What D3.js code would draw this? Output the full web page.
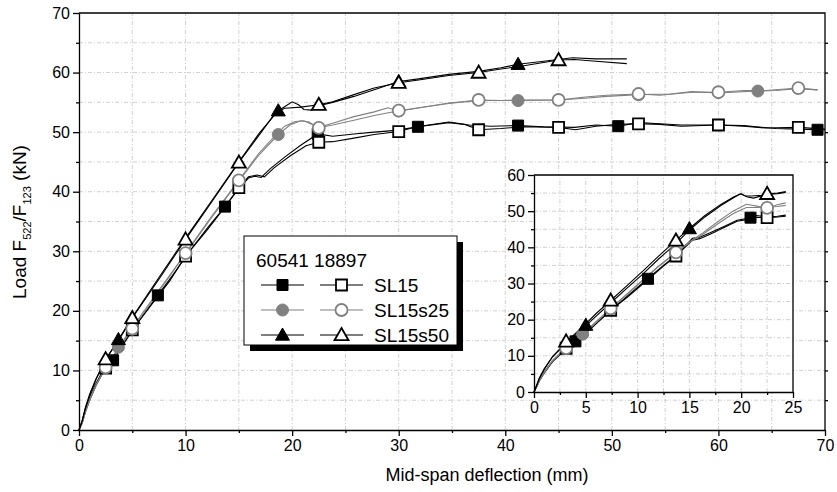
<!DOCTYPE html>
<html lang="en">
<head>
<meta charset="UTF-8" />
<title>Load vs mid-span deflection</title>
<script src="https://cdn.jsdelivr.net/npm/d3@7"></script>
<style>
  body { margin: 0; background: #fff; }
  svg text { font-family: "Liberation Sans", Arial, sans-serif; fill: #000; }
  .grid line { stroke: #c4c4c4; stroke-width: 0.8; stroke-dasharray: 4,2,1,2; }
  .axis path, .axis line { stroke: #000; stroke-width: 1.3; }
</style>
</head>
<body>
<svg id="chart" width="837" height="492"></svg>
<script>
// ---- data ----
const seriesNames = ["SL15", "SL15s25", "SL15s50"];
const specimenNames = ["60541", "18897"];
const xTicks = [0, 10, 20, 30, 40, 50, 60, 70];
const yTicks = [0, 10, 20, 30, 40, 50, 60, 70];
const insetXTicks = [0, 5, 10, 15, 20, 25];
const insetYTicks = [0, 10, 20, 30, 40, 50, 60];

// main plot curves, specimen 60541 (A) and 18897 (B)
const sl15A = [[0,0],[0.3,1.5],[0.6,3.5],[1,5.5],[1.5,7.5],[2.2,9.8],[3.2,11.7],[4.2,14.5],[5.5,18],[7.4,22.6],[9,26.5],[10.5,30.3],[12,33.8],[13.7,37.5],[15,40.5],[15.9,42.3],[16.5,42.6],[17.1,42.4],[17.9,43.8],[19.3,45.8],[20.8,47.8],[22.4,49.7],[23.8,49.3],[25.8,49.7],[27.7,50],[29.7,50.3],[31.8,50.9],[34.7,51.6],[36.6,51.2],[38.6,51],[41.2,51.1],[43.6,50.9],[46.5,50.8],[48.5,51.2],[50.6,51],[52.5,51.6],[54.5,51.4],[56.5,51.2],[60,51.2],[62.4,51.1],[65.4,50.6],[67.4,50.5],[69.3,50.4],[70,50.4]];
const sl15B = [[0,0],[0.3,1.2],[0.6,3],[1,5],[1.6,7.5],[2.5,10.4],[3.5,13],[5,16.8],[7,21.5],[8.5,25],[10,29.2],[12,33.5],[13.5,37],[15,40.7],[15.9,42.5],[16.7,42.8],[17.4,42.5],[18.3,44],[19.8,46],[21.3,47.7],[22.5,48.3],[23.8,48.4],[25.8,49],[27.7,49.6],[30,50.1],[31.7,50.9],[34.7,51.7],[36.2,51.3],[37.5,50.4],[39.6,50.6],[41.6,50.9],[45,50.8],[46.6,50.4],[48.5,51],[50.5,51.3],[52.5,51.4],[54.5,51.3],[56.5,51],[60,51.2],[62.4,51],[64.4,50.7],[67.5,50.8],[70,50.5]];
const s25A = [[0,0],[0.3,1.3],[0.6,3.2],[1,5.2],[1.6,7.7],[2.5,10.4],[3.7,13.9],[5,17.2],[7.5,23.5],[10,29.6],[12.5,35.8],[15,41.8],[16.9,46.2],[18.7,49.6],[19.8,51.2],[20.8,51.9],[21.6,51.7],[22.4,50.7],[23.8,51.2],[25.8,52],[27.7,52.8],[30,53.6],[32.7,54.3],[34.7,54.8],[37.5,55.3],[41.2,55.3],[45,55.4],[47.5,55.7],[49.5,56],[52.5,56.3],[55.5,56.4],[57.5,56.8],[60,56.6],[63.7,56.9],[65.4,57],[67.4,57.3],[69.3,57.1]];
const s25B = [[0,0],[0.3,1.1],[0.6,3],[1,5],[1.7,7.8],[2.5,10.5],[3.7,13.5],[5,17],[7.5,23.2],[10,29.7],[12.5,36],[15,41.9],[16.9,46.5],[18.3,49.2],[19.3,51],[20.3,51.8],[21.1,51.9],[22.5,50.8],[23.8,51.5],[25.8,52.6],[27.7,53.4],[29,54.1],[30,53.5],[31.7,54],[34.7,54.9],[37.5,55.4],[39.6,55.3],[41.6,55.4],[45,55.4],[47.5,55.9],[49.5,56.2],[52.5,56.4],[54.5,56.2],[57.5,56.7],[60,56.7],[62.4,57],[64.4,57],[67.5,57.4],[69.3,57.1]];
const s50A = [[0,0],[0.3,1.6],[0.6,3.8],[1,6],[1.6,8.6],[2.5,11.8],[3.7,15.2],[5,18.9],[7.5,25.6],[10,32.2],[12.5,38.6],[15,45],[16.9,49.8],[18.7,53.6],[19.4,54.4],[20,55.1],[20.6,54.6],[21.1,53.8],[21.8,53.7],[22.4,54.4],[23.8,55],[25.8,56],[27.7,57.1],[30,58.5],[31.7,58.9],[34.7,59.7],[37.5,60.2],[39.6,60.8],[41.2,61.4],[43.6,61.9],[46.3,62.5],[48.5,62.3],[51.4,62.3]];
const s50B = [[0,0],[0.3,1.5],[0.6,3.6],[1,5.8],[1.6,8.5],[2.5,11.9],[3.7,15],[5,18.8],[7.5,25.3],[10,32],[12.5,38.4],[15,44.9],[16.9,49.5],[18.4,53.2],[19.3,54],[20.8,54.2],[22.5,54.6],[23.8,55.1],[25.8,56.3],[27.7,57.4],[30,58.3],[31.7,58.7],[34.7,59.5],[37.5,60],[39.6,60.6],[41.6,61.1],[45,62.1],[46.5,62.2],[48.5,61.9],[51.4,61.5]];

// main plot symbols
const sl15MarkA = [[3.2,11.7],[7.4,22.6],[13.7,37.5],[22.4,49.7],[31.8,50.9],[41.2,51.1],[50.6,51],[60,51.2],[69.3,50.4]];
const sl15MarkB = [[2.5,10.4],[5,16.8],[10,29.2],[15,40.7],[22.5,48.3],[30,50.1],[37.5,50.4],[45,50.8],[52.5,51.4],[60,51.2],[67.5,50.8]];
const s25MarkA = [[3.7,13.9],[18.7,49.6],[30,53.6],[41.2,55.3],[52.5,56.3],[63.7,56.9]];
const s25MarkB = [[2.5,10.5],[5,17],[10,29.7],[15,41.9],[22.5,50.7],[30,53.6],[37.5,55.4],[45,55.4],[52.5,56.4],[60,56.7],[67.5,57.4]];
const s50MarkA = [[3.7,15.2],[18.7,53.6],[30,58.5],[41.2,61.4]];
const s50MarkB = [[2.5,11.9],[5,18.8],[10,32],[15,44.9],[22.5,54.6],[30,58.3],[37.5,60],[45,62.1]];

// inset curves
const inSl15A = [[0,0],[0.2,1.2],[0.5,3.2],[1,5.5],[1.8,8.6],[3,12],[4,14],[5.5,17.8],[7,21.5],[9,26.5],[11,31.4],[12.5,35],[14,38.5],[14.8,41],[15.3,42.5],[16,42.8],[17,44],[18.5,46],[19.6,47.5],[20.9,48.2],[21.5,48.8],[22.5,48.4],[23.5,48.6],[24.3,48.9]];
const inSl15B = [[0,0],[0.2,1.1],[0.5,3],[1,5.3],[1.8,8.4],[3.1,11.8],[4,13.8],[5.5,17.5],[7.4,22.6],[9,26.2],[11,31.1],[12.5,34.8],[13.7,37.6],[14.8,40.6],[15.3,42],[16,42.4],[17,43.6],[18.5,45.7],[19.6,47.2],[20.9,47.8],[21.5,48.3],[22.5,48.2],[23.5,48.4],[24.3,48.6]];
const inS25A = [[0,0],[0.2,1.2],[0.5,3.2],[1,5.6],[1.8,8.8],[3.1,12.3],[4.7,16],[6,19.5],[7.4,23.1],[9,27.2],[10.5,31],[12,34.8],[13.7,38.6],[15,41.5],[16.3,44],[17.9,47.4],[19.2,50],[20.5,51.9],[21.5,51.4],[22.5,50.8],[23.5,51.8],[24.3,52.3]];
const inS25B = [[0,0],[0.2,1.1],[0.5,3],[1,5.4],[1.8,8.6],[3.1,12.1],[4.7,15.8],[6,19.2],[7.4,23],[9,27],[10.5,30.8],[12,34.6],[13.7,38.5],[15,41.3],[16.3,43.6],[17.9,46.8],[19.2,49.3],[20.5,51],[21.5,51],[22.5,51.1],[23.5,51.3],[24.3,51.6]];
const inS50A = [[0,0],[0.2,1.5],[0.5,3.8],[1,6.5],[1.8,9.8],[3,13.2],[4,15.8],[5,18.3],[6,21],[7.4,24.6],[9,28.8],[10.5,32.6],[12,36.7],[13.7,41],[15,44.8],[16.5,48.4],[18,51.5],[19.3,53.8],[19.9,54.8],[20.4,54.2],[21,54.2],[22,54.4],[22.5,54.6],[23.5,54.8],[24.3,55.2]];
const inS50B = [[0,0],[0.2,1.4],[0.5,3.6],[1,6.3],[1.8,9.8],[3.1,13.8],[4,16.2],[5,18.8],[6,21.7],[7.4,25.3],[9,29.5],[10.5,33.4],[12,37.5],[13.7,41.9],[15,45.2],[16.5,48.8],[18,51.8],[19.3,54],[20,54.8],[20.6,53.9],[21.2,53.6],[22,54.3],[22.5,54.8],[23.5,55],[24.3,55.4]];

// inset symbols
const inSl15MarkA = [[4,14],[11,31.3],[20.9,48.2]];
const inSl15MarkB = [[3.1,12.1],[7.4,22.6],[13.7,37.6],[22.5,48.2]];
const inS25MarkA = [[4.7,16]];
const inS25MarkB = [[3.1,12.1],[7.4,23.1],[13.7,38.6],[22.5,50.9]];
const inS50MarkA = [[5,18.5],[15,45.2]];
const inS50MarkB = [[3.1,14],[7.4,25.3],[13.7,41.9],[22.5,54.8]];

// ---- styles ----
const GRAY = "#808080";
const seriesStyle = [
  { shape: "square", color: "#000" },
  { shape: "circle", color: GRAY },
  { shape: "triangle", color: "#000" }
];
const mainCurves = [[sl15A, sl15B], [s25A, s25B], [s50A, s50B]];
const mainMarks = [[sl15MarkA, sl15MarkB], [s25MarkA, s25MarkB], [s50MarkA, s50MarkB]];
const insetCurves = [[inSl15A, inSl15B], [inS25A, inS25B], [inS50A, inS50B]];
const insetMarks = [[inSl15MarkA, inSl15MarkB], [inS25MarkA, inS25MarkB], [inS50MarkA, inS50MarkB]];

const svg = d3.select("#chart");

function symbolPath(shape) {
  if (shape === "square") return "M-5.5,-5.5H5.5V5.5H-5.5Z";
  if (shape === "circle") return d3.symbol().type(d3.symbolCircle).size(113)();
  return "M0,-7L7,5.2H-7Z";
}

function drawMarker(g, shape, color, filled, cx, cy) {
  g.append("path")
    .attr("d", symbolPath(shape))
    .attr("transform", `translate(${cx},${cy})`)
    .attr("fill", filled ? color : "#fff")
    .attr("stroke", color)
    .attr("stroke-width", filled ? 1 : 1.8);
}

function drawPanel(g, x, y, xt, yt, xGrid, yGrid, curves, marks) {
  const [x0, x1] = x.range(), [y0, y1] = y.range();
  g.append("rect").attr("x", x0).attr("y", y1)
    .attr("width", x1 - x0).attr("height", y0 - y1).attr("fill", "#fff");

  const grid = g.append("g").attr("class", "grid");
  grid.selectAll(".gx").data(xGrid).join("line")
    .attr("x1", d => x(d)).attr("x2", d => x(d)).attr("y1", y0).attr("y2", y1);
  grid.selectAll(".gy").data(yGrid).join("line")
    .attr("y1", d => y(d)).attr("y2", d => y(d)).attr("x1", x0).attr("x2", x1);

  const line = d3.line().x(d => x(d[0])).y(d => y(d[1]));
  curves.forEach((pair, i) => {
    pair.forEach(c => {
      g.append("path").datum(c).attr("d", line)
        .attr("fill", "none").attr("stroke", seriesStyle[i].color).attr("stroke-width", 1.1);
    });
  });
  // filled first, open on top
  [0, 1].forEach(k => {
    marks.forEach((pair, i) => {
      pair[k].forEach(p => drawMarker(g, seriesStyle[i].shape, seriesStyle[i].color, k === 0, x(p[0]), y(p[1])));
    });
  });

  // frame
  g.append("path")
    .attr("d", `M${x0},${y1}H${x1}V${y0}`)
    .attr("fill", "none").attr("stroke", "#000").attr("stroke-width", 1.3);

  const step = (xt[1] - xt[0]) / 2, stepY = (yt[1] - yt[0]) / 2;
  const xMinor = d3.range(xt[0] + step, xt[xt.length - 1], step * 2);
  const yMinor = d3.range(yt[0] + stepY, yt[yt.length - 1], stepY * 2);

  g.append("g").attr("class", "axis").attr("transform", `translate(0,${y0})`)
    .call(d3.axisBottom(x).tickValues(xt).tickSize(6).tickSizeOuter(0).tickPadding(4))
    .call(a => a.selectAll("text").attr("font-size", 16));
  g.append("g").attr("class", "axis").attr("transform", `translate(0,${y0})`)
    .call(d3.axisBottom(x).tickValues(xMinor).tickSize(3).tickFormat(""))
    .call(a => a.select(".domain").remove());
  g.append("g").attr("class", "axis").attr("transform", `translate(${x0},0)`)
    .call(d3.axisLeft(y).tickValues(yt).tickSize(6).tickSizeOuter(0).tickPadding(3))
    .call(a => a.selectAll("text").attr("font-size", 16));
  g.append("g").attr("class", "axis").attr("transform", `translate(${x0},0)`)
    .call(d3.axisLeft(y).tickValues(yMinor).tickSize(3).tickFormat(""))
    .call(a => a.select(".domain").remove());
}

// ---- main plot ----
const x = d3.scaleLinear().domain([0, 70]).range([79, 825]);
const y = d3.scaleLinear().domain([0, 70]).range([430, 13]);
const main = svg.append("g");
drawPanel(main, x, y, xTicks, yTicks, d3.range(5, 70, 5), d3.range(5, 70, 5), mainCurves, mainMarks);

// right axis ticks
main.append("g").attr("class", "axis").attr("transform", `translate(825,0)`)
  .call(d3.axisRight(y).tickValues(d3.range(5, 70, 5)).tickSize(3).tickFormat(""))
  .call(a => a.select(".domain").remove());

// axis titles
svg.append("text").attr("x", 487).attr("y", 481).attr("text-anchor", "middle")
  .attr("font-size", 18).text("Mid-span deflection (mm)");
const yl = svg.append("text").attr("transform", "translate(26,222) rotate(-90)")
  .attr("text-anchor", "middle").attr("font-size", 19);
yl.append("tspan").text("Load F");
yl.append("tspan").attr("font-size", 11).attr("dy", 5).text("522");
yl.append("tspan").attr("dy", -5).text("/F");
yl.append("tspan").attr("font-size", 11).attr("dy", 5).text("123");
yl.append("tspan").attr("dy", -5).text(" (kN)");

// ---- inset ----
const ix = d3.scaleLinear().domain([0, 25]).range([534, 793]);
const iy = d3.scaleLinear().domain([0, 60]).range([392, 175]);
drawPanel(svg.append("g"), ix, iy, insetXTicks, insetYTicks,
  d3.range(2.5, 25, 2.5), d3.range(5, 60, 5), insetCurves, insetMarks);

// ---- legend ----
const lg = svg.append("g");
lg.append("rect").attr("x", 250).attr("y", 242).attr("width", 213).attr("height", 109).attr("fill", "#000");
lg.append("rect").attr("x", 244).attr("y", 236).attr("width", 213).attr("height", 109)
  .attr("fill", "#fff").attr("stroke", "#000").attr("stroke-width", 1);
lg.append("text").attr("x", 256).attr("y", 267).attr("font-size", 19).text(specimenNames.join(" "));
seriesNames.forEach((name, i) => {
  const ry = 285 + i * 25;
  const st = seriesStyle[i];
  [[261, 304, true], [320, 363, false]].forEach(([a, b, filled]) => {
    lg.append("line").attr("x1", a).attr("x2", b).attr("y1", ry).attr("y2", ry)
      .attr("stroke", st.color).attr("stroke-width", 1.1);
    drawMarker(lg, st.shape, st.color, filled, (a + b) / 2, ry);
  });
  lg.append("text").attr("x", 374).attr("y", ry + 7).attr("font-size", 19).text(name);
});
</script>
</body>
</html>
